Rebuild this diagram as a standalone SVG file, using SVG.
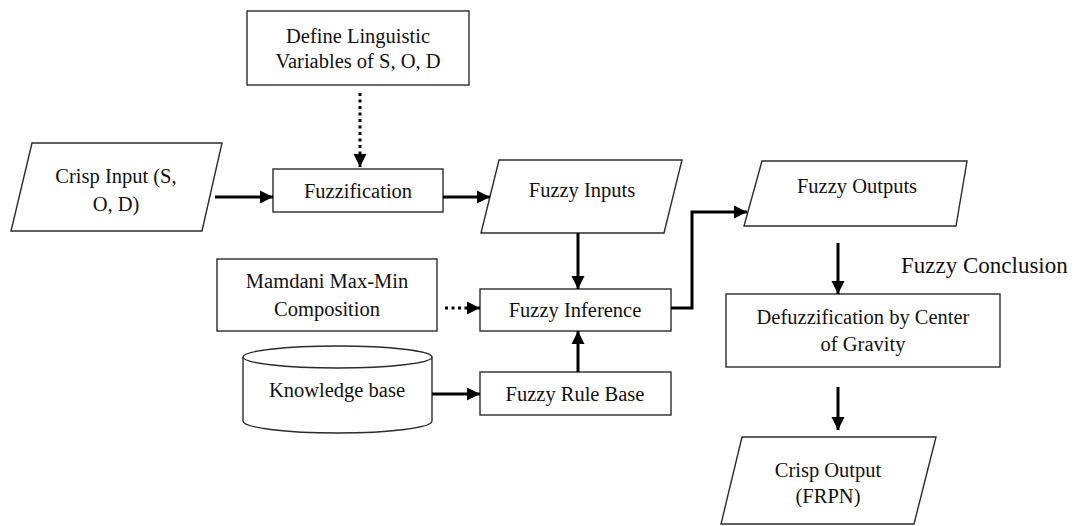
<svg xmlns="http://www.w3.org/2000/svg" width="1077" height="526" viewBox="0 0 1077 526">
<style>
.box{fill:#fff;stroke:#2b2b2b;stroke-width:1.4}
.t{font-family:"Liberation Serif","Times New Roman",serif;font-size:20.5px;fill:#111;text-anchor:middle}
.big{font-size:23px;text-anchor:start}
.c{fill:none;stroke:#000;stroke-width:3}
.d{fill:none;stroke:#000;stroke-width:3;stroke-dasharray:3 3.5}
</style>
<defs>
<marker id="ah" markerUnits="userSpaceOnUse" markerWidth="14" markerHeight="14" refX="13" refY="7" orient="auto" viewBox="0 0 14 14">
<path d="M0,0.5 L13,7 L0,13.5 z" fill="#000"/>
</marker>
</defs>
<rect width="1077" height="526" fill="#fff"/>
<g id="define">
<rect class="box" x="247" y="11" width="222" height="74"/>
<text class="t" x="358" y="43">Define Linguistic</text>
<text class="t" x="358" y="68">Variables of S, O, D</text>
</g>
<g id="crisp-input">
<polygon class="box" points="32,143 222,143 202,231 11,231"/>
<text class="t" x="116" y="183">Crisp Input (S,</text>
<text class="t" x="116" y="211">O, D)</text>
</g>
<g id="fuzzification">
<rect class="box" x="273" y="169" width="170" height="43"/>
<text class="t" x="358" y="198">Fuzzification</text>
</g>
<g id="fuzzy-inputs">
<polygon class="box" points="499,160 682,160 664,233 481,233"/>
<text class="t" x="582" y="197">Fuzzy Inputs</text>
</g>
<g id="fuzzy-outputs">
<polygon class="box" points="762,161 967,161 956,226 744,226"/>
<text class="t" x="857" y="193">Fuzzy Outputs</text>
</g>
<g id="fuzzy-conclusion">
<text class="t big" x="901" y="273">Fuzzy Conclusion</text>
</g>
<g id="mamdani">
<rect class="box" x="217" y="259" width="220" height="72"/>
<text class="t" x="327" y="288">Mamdani Max-Min</text>
<text class="t" x="327" y="316">Composition</text>
</g>
<g id="fuzzy-inference">
<rect class="box" x="480" y="289" width="191" height="42"/>
<text class="t" x="575" y="317">Fuzzy Inference</text>
</g>
<g id="knowledge-base">
<path class="box" d="M243,357 L243,421 A94.5,12 0 0 0 432,421 L432,357"/>
<ellipse class="box" cx="337.5" cy="357" rx="94.5" ry="11"/>
<text class="t" x="337" y="397">Knowledge base</text>
</g>
<g id="fuzzy-rule-base">
<rect class="box" x="480" y="372" width="191" height="43"/>
<text class="t" x="575" y="401">Fuzzy Rule Base</text>
</g>
<g id="defuzzification">
<rect class="box" x="726" y="294" width="274" height="73"/>
<text class="t" x="863" y="324">Defuzzification by Center</text>
<text class="t" x="863" y="351">of Gravity</text>
</g>
<g id="crisp-output">
<polygon class="box" points="742,437 936,437 914,524 721,524"/>
<text class="t" x="828" y="477">Crisp Output</text>
<text class="t" x="828" y="503">(FRPN)</text>
</g>
<g id="connectors">
<line class="d" x1="360" y1="93" x2="360" y2="167" marker-end="url(#ah)"/>
<line class="c" x1="215" y1="197" x2="273" y2="197" marker-end="url(#ah)"/>
<line class="c" x1="443" y1="197" x2="490" y2="197" marker-end="url(#ah)"/>
<line class="c" x1="578" y1="233" x2="578" y2="289" marker-end="url(#ah)"/>
<line class="d" x1="445" y1="308" x2="480" y2="308" marker-end="url(#ah)"/>
<line class="c" x1="432" y1="394" x2="480" y2="394" marker-end="url(#ah)"/>
<line class="c" x1="578" y1="372" x2="578" y2="331" marker-end="url(#ah)"/>
<polyline class="c" points="671,308 692,308 692,212 747,212" marker-end="url(#ah)"/>
<line class="c" x1="838" y1="243" x2="838" y2="294" marker-end="url(#ah)"/>
<line class="c" x1="838" y1="387" x2="838" y2="430" marker-end="url(#ah)"/>
</g>
</svg>
